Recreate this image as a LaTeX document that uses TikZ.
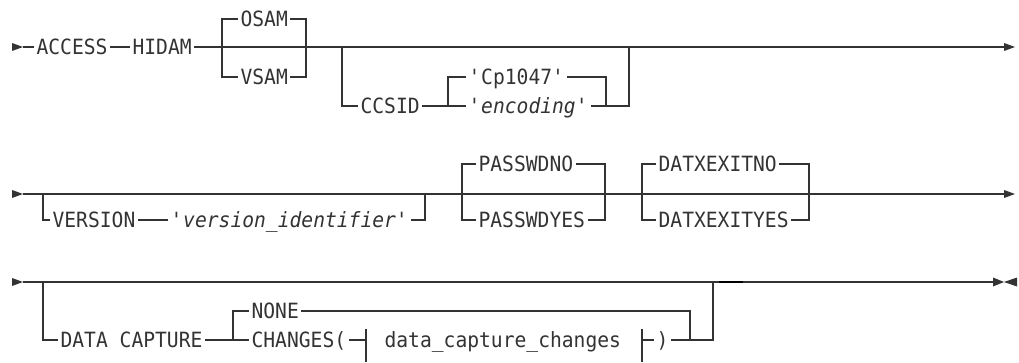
\documentclass[tikz,border=0pt]{standalone}
\usepackage{fontspec}
\newfontfamily\rr{DejaVu Sans Mono}[FakeStretch=0.935]
\newcommand{\rrsize}{\fontsize{21}{24}\selectfont}
\newcommand{\q}{\textquotesingle}
\tikzset{
	kw/.style={font=\rr\rrsize, inner sep=0pt, inner xsep=2pt, text height=15.3pt, text depth=0pt, anchor=west},
	var/.style={kw, font=\rr\itshape\rrsize},
	rail/.style={line width=1.2pt, black!80}
}
\begin{document}
\begin{tikzpicture}[x=1pt,y=-1pt,rail]
	\useasboundingbox (0,0) rectangle (1019,363);
	% start and end marks
	\foreach \y in {47,194,282}{\fill (12,\y-4) -- (23,\y) -- (12,\y+4) -- cycle;}
	\foreach \y in {47,194}{\fill (1004,\y-4) -- (1015,\y) -- (1004,\y+4) -- cycle;}
	\fill (993,277.5) -- (1004,282) -- (993,286.5) -- cycle;
	\fill (1017,277.5) -- (1004,282) -- (1017,286.5) -- cycle;
	% row 1
	\node[kw] (access) at (34,47) {ACCESS};
	\node[kw] (hidam) at (130,47) {HIDAM};
	\node[kw] (osam) at (238,19) {OSAM};
	\node[kw] (vsam) at (238,77) {VSAM};
	\node[kw] (ccsid) at (358,106) {CCSID};
	\node[kw] (cp) at (466,77) {\q Cp1047\q};
	\node[var] (enc) at (466,106) {\q encoding\q};
	\coordinate (s1) at (23,47); \coordinate (e1) at (1004,47);
	\coordinate (a1) at (222,47); \coordinate (b1) at (306,47);
	\coordinate (c1) at (342,47); \coordinate (d1) at (629,47);
	\coordinate (f1) at (448,106); \coordinate (g1) at (606,106);
	\draw (s1) -- (access) (access) -- (hidam) (hidam) -- (e1);
	\draw (osam) -| (a1) |- (vsam) (osam) -| (b1) |- (vsam);
	\draw (c1) |- (ccsid) (ccsid) -- (f1) (f1) |- (cp) (f1) -- (enc);
	\draw (cp) -| (g1) (enc) -- (g1) -| (d1);
	% row 2
	\node[kw] (version) at (50,220) {VERSION};
	\node[var] (vid) at (168,220) {\q version\_identifier\q};
	\node[kw] (pno) at (476,164) {PASSWDNO};
	\node[kw] (pyes) at (476,220) {PASSWDYES};
	\node[kw] (dno) at (656,164) {DATXEXITNO};
	\node[kw] (dyes) at (656,220) {DATXEXITYES};
	\coordinate (s2) at (23,194); \coordinate (e2) at (1004,194);
	\coordinate (a2) at (43,194); \coordinate (b2) at (425,194);
	\coordinate (c2) at (462,194); \coordinate (d2) at (605,194);
	\coordinate (f2) at (642,194); \coordinate (g2) at (809,194);
	\draw (s2) -- (e2);
	\draw (a2) |- (version) (version) -- (vid) (vid) -| (b2);
	\draw (pno) -| (c2) |- (pyes) (pno) -| (d2) |- (pyes);
	\draw (dno) -| (f2) |- (dyes) (dno) -| (g2) |- (dyes);
	% row 3
	\node[kw] (dc) at (58,340) {DATA CAPTURE};
	\node[kw] (none) at (249,311) {NONE};
	\node[kw] (chg) at (249,340) {CHANGES(};
	\node[kw] (dcc) at (382,340) {data\_capture\_changes};
	\node[kw] (close) at (654,340) {)};
	\coordinate (s3) at (23,282); \coordinate (e3) at (993,282);
	\coordinate (a3) at (43,282); \coordinate (b3) at (233,340);
	\coordinate (c3) at (690,311); \coordinate (d3) at (713,282);
	\coordinate (f3) at (366,340); \coordinate (g3) at (642,340);
	\draw (s3) -- (e3);
	\draw[line width=2.2pt, black] (719,282) -- (743,282);
	\draw (a3) |- (dc) (dc) -- (b3) (b3) |- (none) (b3) -- (chg) (chg) -- (f3);
	\draw (none) -| (c3) |- (close) (c3 |- close) -| (d3);
	\draw (f3) ++(0,-11) -- ++(0,33) (g3) ++(0,-11) -- ++(0,33);
	\draw (g3) -- (close);
\end{tikzpicture}
\end{document}
